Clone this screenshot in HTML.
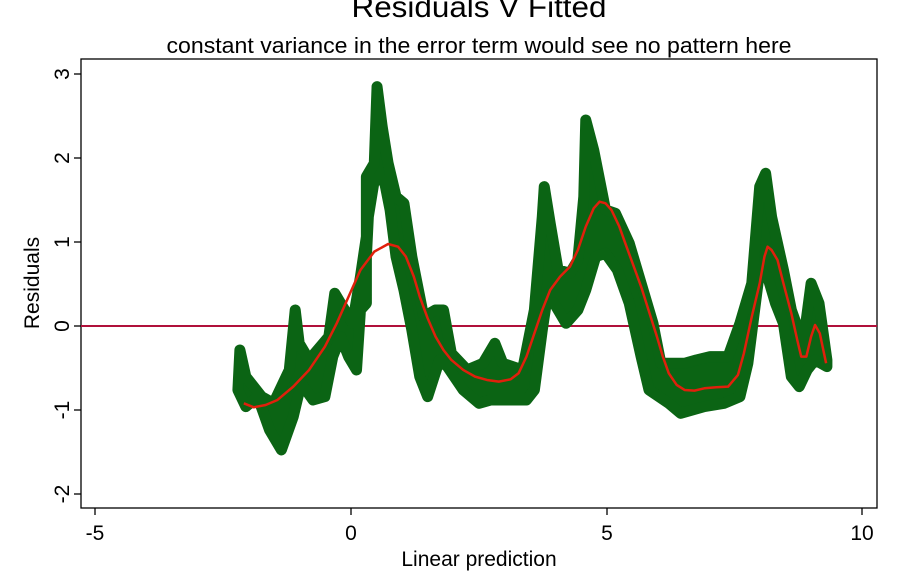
<!DOCTYPE html>
<html><head><style>body{margin:0;background:#fff}svg{display:block}text{font-family:"Liberation Sans",Arial,sans-serif;fill:#000}</style></head>
<body>
<svg width="899" height="581" viewBox="0 0 899 581" xmlns="http://www.w3.org/2000/svg">
<text x="479" y="17" font-size="30" text-anchor="middle" textLength="255" lengthAdjust="spacingAndGlyphs">Residuals V Fitted</text>
<text x="479" y="53" font-size="22" text-anchor="middle" textLength="625" lengthAdjust="spacingAndGlyphs">constant variance in the error term would see no pattern here</text>
<rect x="81" y="59" width="796" height="449" fill="none" stroke="#000" stroke-width="1.3"/>
<g stroke="#000" stroke-width="1.3">
<line x1="95" y1="508" x2="95" y2="515"/><line x1="351" y1="508" x2="351" y2="515"/><line x1="607" y1="508" x2="607" y2="515"/><line x1="862" y1="508" x2="862" y2="515"/>
<line x1="74" y1="74" x2="81" y2="74"/><line x1="74" y1="158" x2="81" y2="158"/><line x1="74" y1="242" x2="81" y2="242"/><line x1="74" y1="326" x2="81" y2="326"/><line x1="74" y1="410" x2="81" y2="410"/><line x1="74" y1="494" x2="81" y2="494"/>
</g>
<g font-size="21" text-anchor="middle">
<text x="95" y="540">-5</text><text x="351" y="540">0</text><text x="607" y="540">5</text><text x="862" y="540">10</text>
<text x="479" y="566">Linear prediction</text>
<text transform="translate(69,74) rotate(-90)">3</text>
<text transform="translate(69,158) rotate(-90)">2</text>
<text transform="translate(69,242) rotate(-90)">1</text>
<text transform="translate(69,326) rotate(-90)">0</text>
<text transform="translate(69,410) rotate(-90)">-1</text>
<text transform="translate(69,494) rotate(-90)">-2</text>
<text transform="translate(39,283) rotate(-90)">Residuals</text>
</g>
<line x1="81" y1="326" x2="877" y2="326" stroke="#b0103a" stroke-width="2"/>
<g transform="translate(230,70) scale(0.3953,0.3333)">
<polygon fill="#0b6414" stroke="#0b6414" stroke-width="11" stroke-linejoin="round" vector-effect="non-scaling-stroke" points="25,840 40,920 80,980 110,1000 150,900 165,720 175,820 200,870 250,800 265,670 290,720 310,760 330,620 345,500 345,320 365,280 372,50 385,170 400,280 420,380 440,400 460,560 490,740 520,720 540,720 560,850 600,900 640,880 670,820 690,880 740,900 770,720 790,440 795,350 810,460 830,600 860,610 880,570 895,380 900,150 920,240 950,420 975,430 1010,520 1040,640 1070,760 1090,880 1150,880 1180,870 1215,860 1260,860 1290,760 1320,640 1340,350 1355,310 1370,440 1400,600 1420,720 1450,820 1470,640 1490,700 1510,870 1510,890 1480,870 1460,900 1440,950 1420,920 1400,760 1380,700 1360,620 1340,600 1310,880 1290,980 1250,1000 1200,1010 1140,1030 1110,1000 1060,960 1040,860 1010,700 980,600 950,550 925,560 900,660 880,720 850,760 820,700 800,700 790,780 770,960 750,990 700,990 660,990 630,1000 590,960 550,890 530,870 500,980 480,920 460,780 440,660 420,560 405,420 390,330 365,330 350,440 345,560 345,700 330,720 320,900 300,860 280,800 260,860 240,980 210,990 180,940 160,1040 130,1140 100,1080 70,980 40,1010 20,960"/>
<polyline fill="none" stroke="#e0200c" stroke-width="2.5" stroke-linejoin="round" vector-effect="non-scaling-stroke" points="35,1000 60,1012 90,1005 120,990 160,950 200,900 240,830 270,760 300,680 330,600 365,545 400,522 425,530 445,560 465,620 480,680 500,745 520,800 540,840 560,870 590,900 620,920 650,930 680,935 710,928 730,910 750,860 770,790 790,720 810,660 835,620 860,590 880,540 900,470 920,415 935,395 950,400 965,420 985,470 1000,520 1020,585 1040,650 1060,725 1080,800 1095,860 1110,910 1130,945 1150,960 1175,962 1200,955 1230,952 1260,950 1285,915 1300,850 1320,740 1340,640 1352,560 1360,530 1370,540 1385,570 1400,640 1420,730 1435,810 1445,860 1458,860 1470,800 1480,765 1492,790 1508,880"/>
</g>
</svg>
</body></html>
